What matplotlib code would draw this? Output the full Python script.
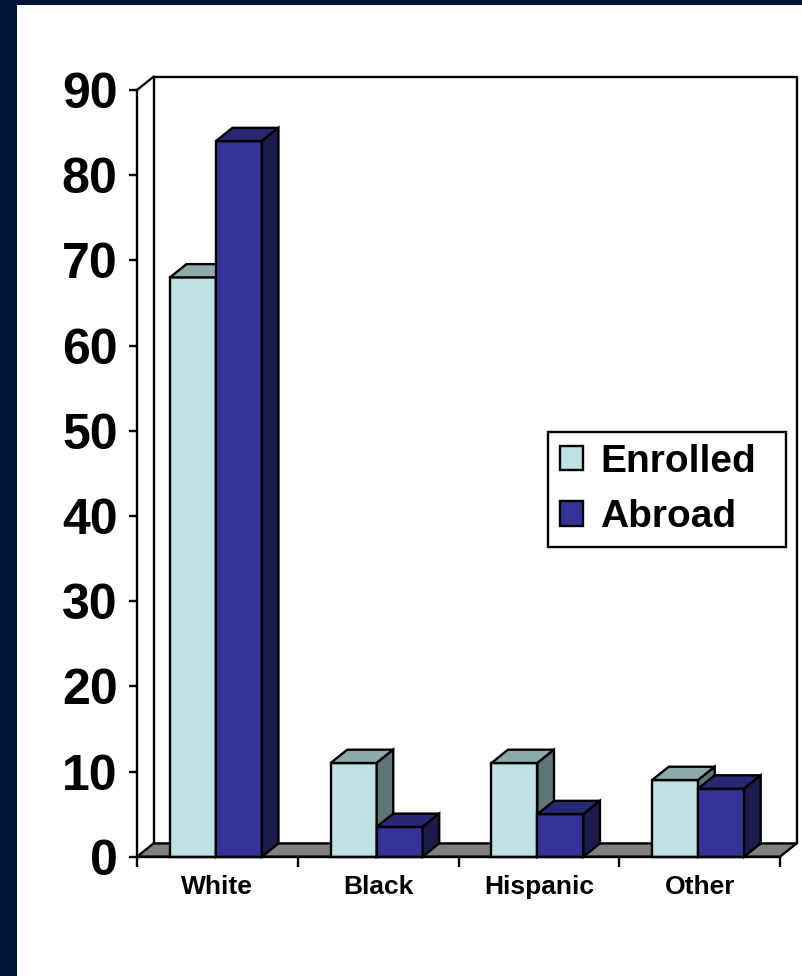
import matplotlib.pyplot as plt
from matplotlib.patches import Polygon, Patch, Rectangle

# Share of students (%) by group
groups = ["White", "Black", "Hispanic", "Other"]
enrolled = [68, 11, 11, 9]
abroad = [84, 3.5, 5, 8]
series_names = ["Enrolled", "Abroad"]
y_ticks = list(range(0, 91, 10))

plt.rcParams['font.family'] = ['Liberation Sans', 'DejaVu Sans']
plt.rcParams['font.weight'] = 'bold'

# face / top / side shades for the pseudo-3D columns
shades = [
    ("#bde1e4", "#8faaad", "#5e7677"),
    ("#333399", "#272773", "#1b1b4d"),
]
edge = "black"
lw = 1.7

W, H = 802, 976
fig = plt.figure(figsize=(W / 100, H / 100), dpi=100)
fig.patch.set_facecolor("white")

# dark slide frame along the top and left
navy = "#021338"
fig.patches.append(Rectangle((0, 0), 17 / W, 1, transform=fig.transFigure,
                             facecolor=navy, edgecolor="none", zorder=0))
fig.patches.append(Rectangle((0, 1 - 5 / H), 1, 5 / H, transform=fig.transFigure,
                             facecolor=navy, edgecolor="none", zorder=0))

y0_px, y90_px = 856.7, 90
ax = fig.add_axes([137 / W, (H - y0_px) / H, (780 - 137) / W, (y0_px - y90_px) / H])
ax.set_xlim(0, len(groups))
ax.set_ylim(0, 90)
ax.patch.set_alpha(0)

dx, dy = 0.103, 1.56        # depth offset of the 3D box
bw = 0.286                  # column width
gap = 0.205                 # space before first column in a group
n = len(groups)

# floor
ax.add_patch(Polygon([(0, 0), (n, 0), (n + dx, dy), (dx, dy)], closed=True,
                     facecolor="#808080", edgecolor=edge, lw=lw, zorder=1,
                     clip_on=False))
# back wall outline and top of the side wall
ax.plot([dx, dx, n + dx, n + dx], [dy, 90 + dy, 90 + dy, dy], color=edge,
        lw=lw, zorder=1, clip_on=False)
ax.plot([0, dx], [90, 90 + dy], color=edge, lw=lw, zorder=1, clip_on=False)


def column(x, v, cols, z):
    front, top, side = cols
    polys = [
        ([(x, 0), (x + bw, 0), (x + bw, v), (x, v)], front),
        ([(x, v), (x + bw, v), (x + bw + dx, v + dy), (x + dx, v + dy)], top),
        ([(x + bw, 0), (x + bw + dx, dy), (x + bw + dx, v + dy), (x + bw, v)], side),
    ]
    for pts, fc in polys:
        ax.add_patch(Polygon(pts, closed=True, facecolor=fc, edgecolor=edge,
                             lw=lw, joinstyle="miter", zorder=z, clip_on=False))


z = 2
for i in range(n):
    for j, vals in enumerate([enrolled, abroad]):
        column(i + gap + j * bw, vals[i], shades[j], z)
        z += 1

# axes spines and ticks
for s in ["top", "right"]:
    ax.spines[s].set_visible(False)
for s in ["left", "bottom"]:
    ax.spines[s].set_linewidth(lw)
    ax.spines[s].set_zorder(50)

ax.set_yticks(y_ticks)
ax.set_yticklabels([str(t) for t in y_ticks], fontsize=36, fontweight="bold")
ax.tick_params(axis="y", direction="out", length=6, width=lw, pad=8)

ax.set_xticks(range(n + 1))
ax.set_xticklabels([])
ax.tick_params(axis="x", which="major", direction="out", length=7, width=lw)
ax.set_xticks([i + 0.5 for i in range(n)], minor=True)
ax.set_xticklabels(groups, minor=True, fontsize=19, fontweight="bold")
ax.tick_params(axis="x", which="minor", length=0, pad=13)

handles = [Patch(facecolor=shades[k][0], edgecolor=edge, lw=lw) for k in range(2)]
leg = ax.legend(handles, series_names, loc="upper left", mode="expand",
                bbox_to_anchor=(548 / W, (H - 547) / H, 238 / W, 115 / H),
                bbox_transform=fig.transFigure,
                borderaxespad=0, fancybox=False, framealpha=1, edgecolor=edge,
                prop={"size": 28, "weight": "bold"},
                handlelength=0.6, handleheight=0.6, handletextpad=0.45,
                borderpad=0.3, labelspacing=0.5)
leg.get_frame().set_linewidth(lw)
leg.set_zorder(100)

fig.savefig("out.png", dpi=100)
